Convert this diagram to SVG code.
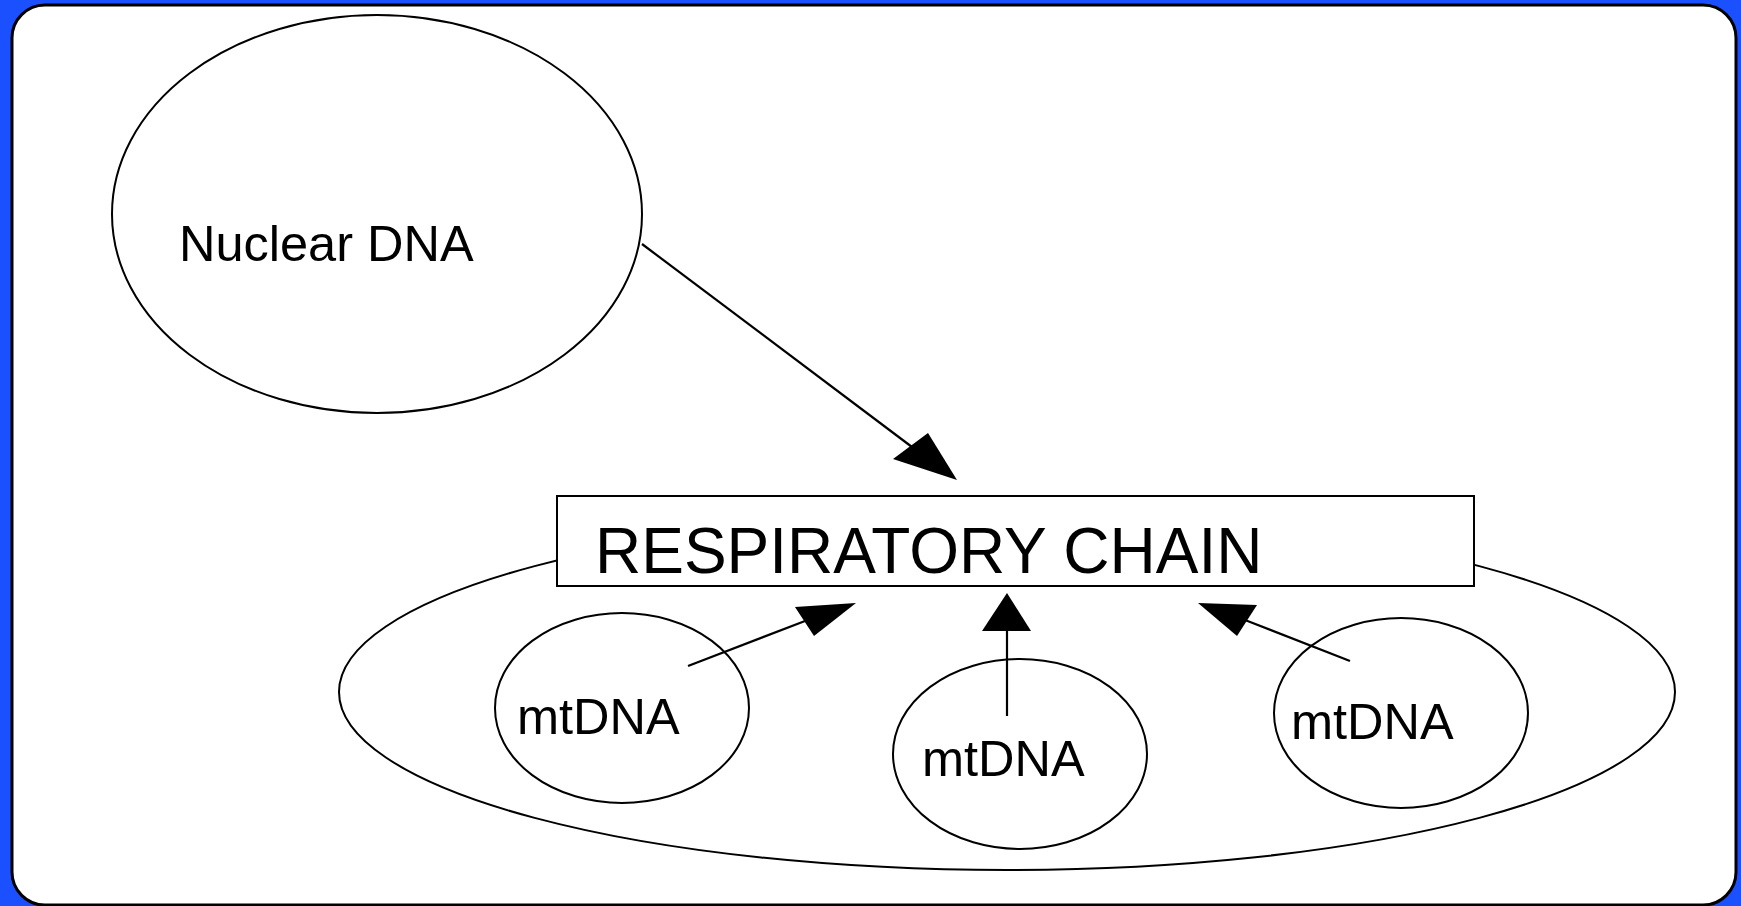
<svg xmlns="http://www.w3.org/2000/svg" width="1741" height="906" viewBox="0 0 1741 906">
<style>
.shape{fill:#ffffff;stroke:#000000;stroke-width:2}
.lbl{font-family:"Liberation Sans",Arial,sans-serif;fill:#000000}
.conn line{stroke:#000000;stroke-width:2.2}
.conn polygon{fill:#000000;stroke:none}
</style>
<rect x="0" y="0" width="1741" height="906" fill="#1a50ff"/>
<rect id="frame" x="12" y="5" width="1724" height="900" rx="33" ry="33" fill="#ffffff" stroke="#000000" stroke-width="3"/>
<g id="mitochondrion">
<ellipse class="shape" cx="1007" cy="692" rx="668" ry="178"/>
</g>
<g id="nuclear-dna">
<ellipse class="shape" cx="377" cy="214" rx="265" ry="199"/>
<text class="lbl" x="179" y="261" font-size="50.5">Nuclear DNA</text>
</g>
<g id="respiratory-chain">
<rect class="shape" x="557" y="496" width="917" height="90"/>
<text class="lbl" x="595" y="573" font-size="64">RESPIRATORY CHAIN</text>
</g>
<g id="mtdna-1">
<ellipse class="shape" cx="622" cy="708" rx="127" ry="95"/>
<text class="lbl" x="517" y="734" font-size="50.5">mtDNA</text>
</g>
<g id="mtdna-2">
<ellipse class="shape" cx="1020" cy="754" rx="127" ry="95"/>
<text class="lbl" x="922" y="776" font-size="50.5">mtDNA</text>
</g>
<g id="mtdna-3">
<ellipse class="shape" cx="1401" cy="713" rx="127" ry="95"/>
<text class="lbl" x="1291" y="739" font-size="50.5">mtDNA</text>
</g>
<g id="connectors" class="conn">
<line x1="642" y1="244" x2="912" y2="447"/>
<polygon points="957,480 928,433 893,459"/>
<line x1="688" y1="666" x2="805" y2="621"/>
<polygon points="856,603 795,607 814,636"/>
<line x1="1007" y1="716" x2="1007" y2="628"/>
<polygon points="1007,593 982,631 1031,631"/>
<line x1="1350" y1="661" x2="1245" y2="620"/>
<polygon points="1198,603 1257,605 1237,636"/>
</g>
</svg>
